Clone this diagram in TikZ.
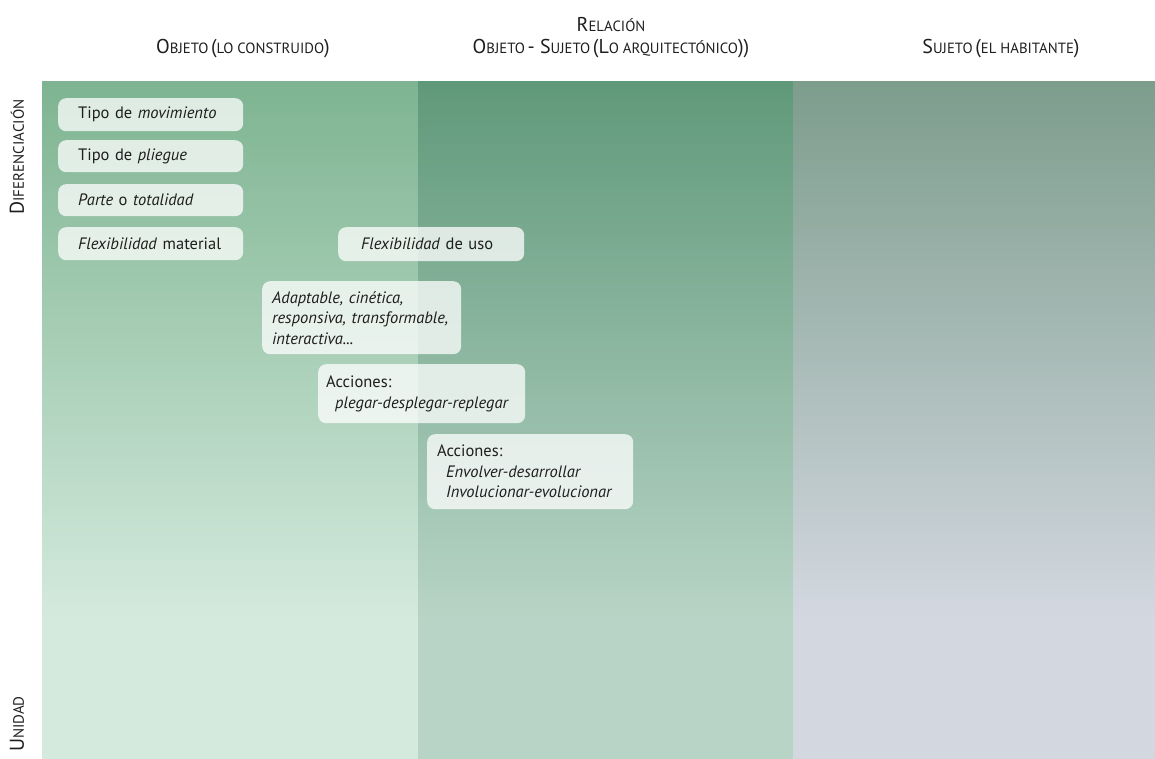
\documentclass[tikz,border=0pt]{standalone}
\usepackage{fontspec}
\setmainfont{PT Sans}
\newcommand\hbig[1]{{\fontsize{20}{23}\selectfont #1}}
\newcommand\hsml[1]{{\fontsize{14.8}{17}\selectfont #1}}
\newcommand\vbig[1]{{\fontsize{20}{23}\selectfont #1}}
\newcommand\vsml[1]{{\fontsize{15}{17}\selectfont #1}}
\definecolor{txt}{RGB}{30,30,30}
\definecolor{aTop}{RGB}{126,180,145}
\definecolor{aBot}{RGB}{212,234,221}
\definecolor{bTop}{RGB}{96,153,122}
\definecolor{bBot}{RGB}{184,212,198}
\definecolor{cTop}{RGB}{125,157,141}
\definecolor{cBot}{RGB}{211,216,224}
\tikzset{
  hdr/.style={text=txt, inner sep=0pt, anchor=base},
  box/.style={anchor=north west, fill=white, fill opacity=0.75, text opacity=1,
    rounded corners=8pt, text=txt, align=left, inner ysep=0pt,
    font=\fontsize{16.5}{20.5}\selectfont},
}
\begin{document}
\begin{tikzpicture}[x=1pt,y=-1pt]
\useasboundingbox (0,0) rectangle (1155,759);
% columns
\shade[top color=aTop, bottom color=aBot] (42,82) rectangle (418,620);
\fill[aBot] (42,619.5) rectangle (418,759);
\shade[top color=bTop, bottom color=bBot] (418,82) rectangle (793,620);
\fill[bBot] (418,619.5) rectangle (793,759);
\shade[top color=cTop, bottom color=cBot] (793,82) rectangle (1155,620);
\fill[cBot] (793,619.5) rectangle (1155,759);
% headers
\node[hdr] (h1) at (243,54) {\hbig{O}\hsml{BJETO} \hbig{(}\hsml{LO CONSTRUIDO}\hbig{)}};
\node[hdr] (h2a) at (611,32) {\hbig{R}\hsml{ELACIÓN}};
\node[hdr] (h2b) at (611,54) {\hbig{O}\hsml{BJETO} \hbig{- S}\hsml{UJETO} \hbig{(L}\hsml{O ARQUITECTÓNICO}\hbig{))}};
\node[hdr] (h3) at (1001,54) {\hbig{S}\hsml{UJETO} \hbig{(}\hsml{EL HABITANTE}\hbig{)}};
% side labels
\node[text=txt, inner sep=0pt, rotate=90] (dif) at (17,157) {\vbig{D}\vsml{IFERENCIACIÓN}};
\node[text=txt, inner sep=0pt, rotate=90] (uni) at (17,724) {\vbig{U}\vsml{NIDAD}};
% boxes
\node[box, inner xsep=20pt, text width=145pt, minimum height=33pt] (b1) at (58,98) {Tipo de \textit{movimiento}};
\node[box, inner xsep=20pt, text width=145pt, minimum height=32pt] (b2) at (58,140) {Tipo de \textit{pliegue}};
\node[box, inner xsep=20pt, text width=145pt, minimum height=32pt] (b3) at (58,184) {\textit{Parte} o \textit{totalidad}};
\node[box, inner xsep=20pt, text width=145pt, minimum height=33pt] (b4) at (58,227) {\textit{Flexibilidad} material};
\node[box, inner xsep=23pt, text width=140pt, minimum height=34pt] (b5) at (338,227) {\textit{Flexibilidad} de uso};
\node[box, inner xsep=10pt, text width=179pt, minimum height=73pt] (b6) at (262,281) {\textit{Adaptable, cinética,}\\\textit{responsiva, transformable,}\\\textit{interactiva...}};
\node[box, inner xsep=8pt, text width=191pt, minimum height=59pt] (b7) at (318,364) {Acciones:\\\hspace*{9pt}\textit{plegar-desplegar-replegar}};
\node[box, inner xsep=10pt, text width=186pt, minimum height=75pt] (b8) at (427,434) {Acciones:\\\hspace*{9pt}\textit{Envolver-desarrollar}\\\hspace*{9pt}\textit{Involucionar-evolucionar}};
\end{tikzpicture}
\end{document}
